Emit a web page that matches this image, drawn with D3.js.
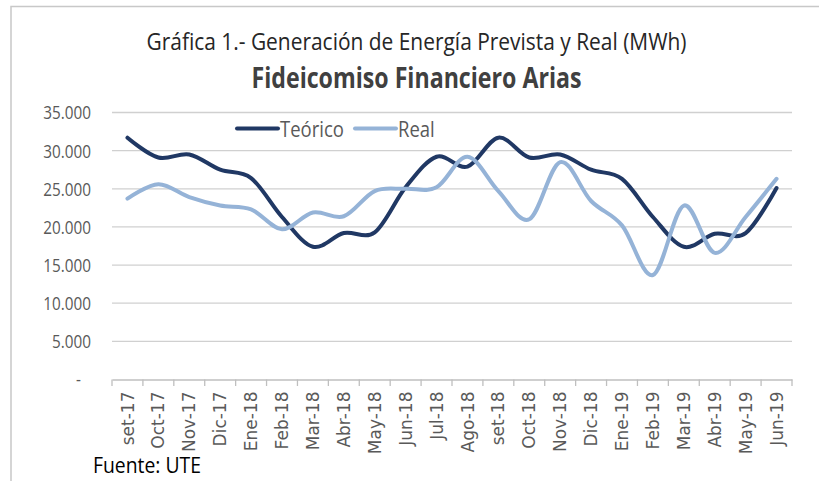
<!DOCTYPE html>
<html>
<head>
<meta charset="utf-8">
<script src="https://cdn.jsdelivr.net/npm/d3@7"></script>
<style>
  body { margin: 0; background: #fff; }
  svg { display: block; font-family: "Open Sans", sans-serif; }
</style>
</head>
<body>
<div id="chart"></div>
<script>
// data
const months = ["set-17", "Oct-17", "Nov-17", "Dic-17", "Ene-18", "Feb-18", "Mar-18", "Abr-18",
  "May-18", "Jun-18", "Jul-18", "Ago-18", "set-18", "Oct-18", "Nov-18", "Dic-18",
  "Ene-19", "Feb-19", "Mar-19", "Abr-19", "May-19", "Jun-19"];
const teorico = [31700, 29100, 29500, 27500, 26400, 21300, 17400, 19200, 19300, 25200, 29200,
  27900, 31700, 29100, 29500, 27500, 26300, 21300, 17400, 19100, 19200, 25100];
const real = [23700, 25600, 23900, 22800, 22300, 19700, 21900, 21400, 24700, 25000, 25200,
  29200, 24700, 21000, 28500, 23400, 20200, 13700, 22800, 16600, 21300, 26300];
const yTicks = [0, 5000, 10000, 15000, 20000, 25000, 30000, 35000];
const seriesNames = ["Teórico", "Real"];
const colors = ["#203864", "#95b3d7"];

const w = 819;
const h = 481;
const margin = { left: 112, right: 27, top: 112.5, bottom: 101.5 };

const svg = d3.select("#chart").append("svg").attr("width", w).attr("height", h);

// squeeze text horizontally, the original font is narrow
function condense(sel, k) {
  sel.each(function () {
    const len = this.getComputedTextLength();
    d3.select(this)
      .attr("textLength", len * k)
      .attr("lengthAdjust", "spacingAndGlyphs");
  });
}

// outer frame (only top and left edges are visible)
svg.append("path")
  .attr("d", `M11,${h} V6.5 H${w}`)
  .attr("fill", "none")
  .attr("stroke", "#c8c8c8")
  .attr("stroke-width", 1.5);

const x = d3.scaleBand().domain(months).range([margin.left, w - margin.right]);
const y = d3.scaleLinear().domain([0, 35000]).range([h - margin.bottom, margin.top]);

// gridlines
svg.append("g")
  .selectAll("line")
  .data(yTicks.filter((d) => d > 0))
  .enter()
  .append("line")
  .attr("x1", margin.left)
  .attr("x2", w - margin.right)
  .attr("y1", (d) => y(d))
  .attr("y2", (d) => y(d))
  .attr("stroke", "#d0d0d0")
  .attr("stroke-width", 1.3);

// y axis labels
const yAxis = d3.axisLeft(y)
  .tickValues(yTicks)
  .tickSize(0)
  .tickPadding(21)
  .tickFormat((d) => (d === 0 ? "-" : d3.format(",")(d).replace(/,/g, ".")));

const gy = svg.append("g")
  .attr("transform", `translate(${margin.left},0)`)
  .call(yAxis);
gy.select(".domain").remove();
gy.selectAll("text")
  .attr("font-family", "'Open Sans', sans-serif")
  .attr("font-size", 18)
  .attr("fill", "#595959")
  .attr("dx", (d) => (d === 0 ? -10 : 0))
  .attr("dy", "0.36em")
  .call(condense, 0.85);

// x axis
const xAxis = d3.axisBottom(x).tickSize(0).tickPadding(0);
const gx = svg.append("g")
  .attr("transform", `translate(0,${y(0)})`)
  .call(xAxis);
gx.select(".domain").attr("stroke", "#bfbfbf").attr("stroke-width", 1.3);
gx.selectAll(".tick text")
  .attr("font-family", "'DejaVu Sans', sans-serif")
  .attr("font-size", 17)
  .attr("fill", "#595959")
  .attr("text-anchor", "end")
  .attr("transform", "rotate(-90)")
  .attr("x", -12)
  .attr("y", 0)
  .attr("dy", "0.36em");

// category boundary ticks
gx.append("g")
  .selectAll("line")
  .data(months.concat(["end"]))
  .enter()
  .append("line")
  .attr("x1", (d, i) => margin.left + i * x.step())
  .attr("x2", (d, i) => margin.left + i * x.step())
  .attr("y1", 0)
  .attr("y2", 6.5)
  .attr("stroke", "#bfbfbf")
  .attr("stroke-width", 1.3);

// lines
const line = d3.line()
  .x((d, i) => x(months[i]) + x.bandwidth() / 2)
  .y((d) => y(d))
  .curve(d3.curveCardinal);

[teorico, real].forEach((s, i) => {
  svg.append("path")
    .datum(s)
    .attr("fill", "none")
    .attr("stroke", colors[i])
    .attr("stroke-width", 4)
    .attr("stroke-linecap", "round")
    .attr("stroke-linejoin", "round")
    .attr("d", line);
});

// legend
const legendX = [237, 355];
seriesNames.forEach((name, i) => {
  const g = svg.append("g").attr("transform", `translate(${legendX[i]},128.5)`);
  g.append("line")
    .attr("x1", 0)
    .attr("x2", 41)
    .attr("stroke", colors[i])
    .attr("stroke-width", 4)
    .attr("stroke-linecap", "round");
  g.append("text")
    .attr("x", 43)
    .attr("y", 8)
    .attr("font-size", 22)
    .attr("fill", "#595959")
    .text(name)
    .call(condense, 0.84);
});

// titles
svg.append("text")
  .attr("x", 416.5)
  .attr("y", 50)
  .attr("text-anchor", "middle")
  .attr("font-size", 24)
  .attr("fill", "#262626")
  .attr("textLength", 540)
  .attr("lengthAdjust", "spacingAndGlyphs")
  .text("Gráfica 1.- Generación de Energía Prevista y Real (MWh)");

svg.append("text")
  .attr("x", 416.5)
  .attr("y", 88)
  .attr("text-anchor", "middle")
  .attr("font-size", 28)
  .attr("font-weight", "bold")
  .attr("fill", "#404040")
  .attr("textLength", 330)
  .attr("lengthAdjust", "spacingAndGlyphs")
  .text("Fideicomiso Financiero Arias");

svg.append("text")
  .attr("x", 93)
  .attr("y", 473)
  .attr("font-size", 22)
  .attr("fill", "#000")
  .attr("textLength", 108)
  .attr("lengthAdjust", "spacingAndGlyphs")
  .text("Fuente: UTE");
</script>
</body>
</html>
